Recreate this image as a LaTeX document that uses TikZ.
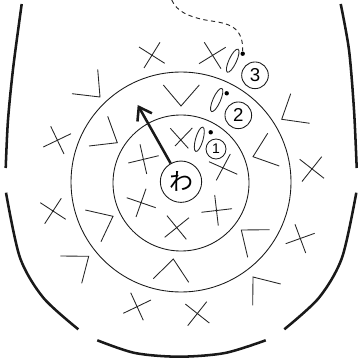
\documentclass[tikz,border=0pt]{standalone}
\usepackage{fontspec}
\setmainfont{Liberation Sans}
\newfontfamily\jpfont{Noto Sans CJK JP}
\usetikzlibrary{arrows.meta,shapes.geometric}
\tikzset{
  wall/.style={line width=1.9pt,draw=black!90,line cap=butt},
  thin stroke/.style={line width=0.65pt,draw=black!85},
  ring/.style={circle,draw=black!90,line width=0.65pt,inner sep=0pt,fill=white},
  seed/.style={ellipse,draw=black!85,line width=0.65pt,inner sep=0pt,minimum width=19pt,minimum height=5.6pt},
  dotmark/.style={circle,fill=black,inner sep=0pt,minimum size=3.3pt},
  guide/.style={line width=0.7pt,draw=black!85,dash pattern=on 3.2pt off 2.6pt},
  shaft/.style={line width=1.9pt,draw=black!90,-{Straight Barb[length=9pt,width=12.5pt,line width=1.9pt]}}
}
\begin{document}
\begin{tikzpicture}[x=0.75pt,y=-0.75pt]
\useasboundingbox (0,0) rectangle (358,363);
% outer walls
\draw[wall] plot[smooth] coordinates {(21.7,4) (13.3,66.7) (8,120) (5.7,168)};
\draw[wall] plot[smooth] coordinates {(340.7,4) (349,50) (354,110) (356.7,168)};
\draw[wall] plot[smooth] coordinates {(6,192.7) (20,257.7) (43.3,297.7) (78.3,329.3)};
\draw[wall] plot[smooth] coordinates {(356.3,192.7) (342,257.7) (319,297.7) (284.3,329.3)};
\draw[wall] plot[smooth] coordinates {(97.3,340.3) (135,353) (179,356.7) (225,353) (265.7,340.3)};
% rings
\node[ring,minimum size=165pt,fill=none] (rb) at (181,182) {};
\node[ring,minimum size=102pt,fill=none] (rm) at (181,183) {};
% crosses
\foreach \a/\b/\c/\d/\e/\f/\g/\h in {
 139/47/164.7/63.3/160/42.3/144/68,
 43.3/147/71/133.7/50.7/126.3/64/154,
 128.3/163/158.7/155.7/140/144.3/146.7/174,
 170.3/128.3/188.3/148.3/192.3/128/175/146,
 204.3/42.3/221/68.7/225.7/47.3/199/63.7,
 209/161.7/237.3/174.3/230.3/154/216.3/180.3,
 299.7/159.3/324/178.3/321.7/156.7/302/181.5,
 40.3/202.7/65.7/219.3/61.3/198.3/44.7/223.7,
 126.7/197.7/155.7/207.7/146/188.7/136/217,
 167/215.7/186.3/239.3/189/217.7/164.7/237.3,
 201.3/212.3/232/208.7/214.7/195/218.3/225.7,
 130.7/292.7/143.3/320.3/151/300/123.3/313.3,
 185.3/304/209.3/323/206.7/301.7/187.7/325.7,
 295/224.3/305.7/253/314.7/233.3/285.7/243.7}
 {\draw[thin stroke] (\a,\b) -- (\c,\d) (\e,\f) -- (\g,\h);}
% chevrons
\foreach \a/\b/\c/\d/\e/\f in {
 72/93.7/100/97/97.7/69.3,
 89/146/117.3/142.7/107.7/116.3,
 163.3/85/181/106/199.3/85,
 290.7/93.7/281.7/119.3/309.7/123.3,
 267.7/133.3/253/156.7/279.3/166,
 85.3/210/113/216.3/101/241.7,
 60.3/256/88.7/256.3/81.7/283.3,
 153.3/278.7/173.3/259/188.7/282.3,
 269.7/229.7/241.3/230/247.7/257.3,
 280.7/284/253/277/252.7/305.3}
 {\draw[thin stroke] (\a,\b) -- (\c,\d) -- (\e,\f);}
% seeds, dots, numbers
\node[seed,rotate=74] (s1) at (199.3,139.3) {};
\node[seed,rotate=66] (s2) at (216.7,100) {};
\node[seed,rotate=65] (s3) at (232.7,60.7) {};
\node[dotmark] (d1) at (210.7,132.3) {};
\node[dotmark] (d2) at (226.7,93.3) {};
\node[dotmark] (d3) at (242.7,53.7) {};
\node[ring,minimum size=15pt,fill=none,font=\fontsize{10.5}{10.5}\selectfont] (n1) at (216,149) {1};
\node[ring,minimum size=20pt,fill=none,font=\fontsize{14}{14}\selectfont] (n2) at (238.3,115.3) {2};
\node[ring,minimum size=20pt,fill=none,font=\fontsize{14}{14}\selectfont] (n3) at (255,75.3) {3};
% centre and arrow
\node[ring,minimum size=31pt,font=\jpfont\fontsize{18}{18}\selectfont] (wa) at (181,181.7) {わ};
\coordinate (tip) at (137.7,105);
\draw[shaft] (wa) -- (tip);
% dashed guide
\coordinate (gs) at (171.7,0);
\draw[guide] (gs) .. controls (177,12) and (189,16) .. (201.7,19.3)
  .. controls (215,22) and (226,22) .. (234,28)
  .. controls (241,33) and (243,42) .. (d3.north);
\end{tikzpicture}
\end{document}
